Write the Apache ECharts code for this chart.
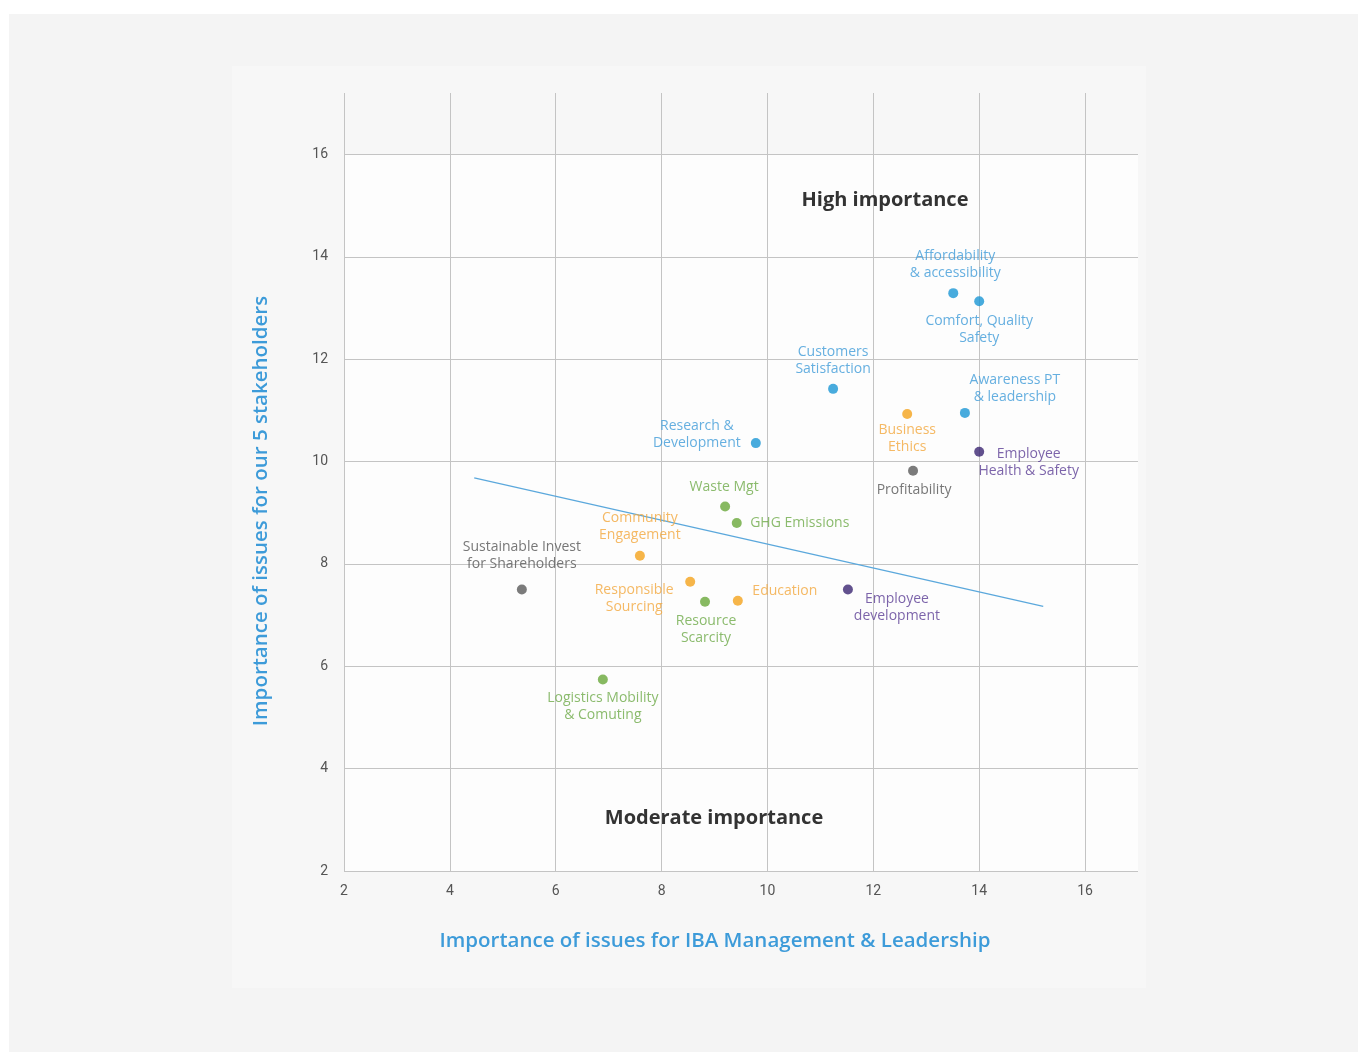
<!DOCTYPE html>
<html>
<head>
<meta charset="utf-8">
<script src="https://cdn.jsdelivr.net/npm/echarts@6/dist/echarts.min.js"></script>
<style>
  html, body { margin: 0; padding: 0; background: #ffffff; }
  #outer { position: absolute; left: 9px; top: 14px; width: 1349px; height: 1038px; background: #f4f4f4; }
  #inner { position: absolute; left: 232px; top: 66px; width: 914px; height: 922px; background: #f7f7f7; }
  #chart { position: absolute; left: 0; top: 0; width: 1358px; height: 1052px; }
</style>
</head>
<body>
<div id="outer"></div>
<div id="inner"></div>
<div id="chart"></div>
<script>
// ---- data ----
const issueNames = [
  'Affordability\n& accessibility',
  'Comfort, Quality\nSafety',
  'Customers\nSatisfaction',
  'Awareness PT\n& leadership',
  'Business\nEthics',
  'Research &\nDevelopment',
  'Employee\nHealth & Safety',
  'Profitability',
  'Waste Mgt',
  'GHG Emissions',
  'Community\nEngagement',
  'Sustainable Invest\nfor Shareholders',
  'Responsible\nSourcing',
  'Resource\nScarcity',
  'Education',
  'Employee\ndevelopment',
  'Logistics Mobility\n& Comuting'
];
const managementScores = [13.51, 14.0, 11.24, 13.73, 12.64, 9.78, 14.0, 12.75, 9.20, 9.42, 7.59, 5.36, 8.54, 8.82, 9.44, 11.52, 6.89];
const stakeholderScores = [13.29, 13.13, 11.42, 10.95, 10.93, 10.36, 10.19, 9.82, 9.12, 8.80, 8.16, 7.50, 7.65, 7.26, 7.28, 7.50, 5.74];
const issueGroups = ['customer', 'customer', 'customer', 'customer', 'social', 'customer', 'people', 'economic', 'environment', 'environment', 'social', 'economic', 'social', 'environment', 'social', 'people', 'environment'];
const trendX = [4.46, 15.21];
const trendY = [9.68, 7.17];
const tickValues = [2, 4, 6, 8, 10, 12, 14, 16];
const xAxisTitle = 'Importance of issues for IBA Management & Leadership';
const yAxisTitle = 'Importance of issues for our 5 stakeholders';
const highLabel = 'High importance';
const moderateLabel = 'Moderate importance';

// ---- styles ----
const FONT = 'Open Sans';
const groupDot = { customer: '#1a96d4', social: '#f4a31c', environment: '#69a83a', economic: '#5a5a5a', people: '#3b2672' };
const groupText = { customer: '#3f9bd8', social: '#f2a83d', environment: '#6eaa48', economic: '#555555', people: '#5b3d95' };
// label centre offset (px) from the dot centre
const labelOffsets = [
  [2, -28.5], [0, 28.5], [0, -28.5], [50, -24.5], [0, 24.5], [-59, -9], [49.5, 10.5],
  [1, 19], [-1, -20], [63, 0], [0, -29.5], [0, -33.5], [-56, 16.5], [1, 27.5], [47, -10],
  [49, 18], [0, 26.5]
];
const DOT = 10;

const pointData = issueNames.map((n, i) => ({
  name: n,
  value: [managementScores[i], stakeholderScores[i]],
  itemStyle: { color: groupDot[issueGroups[i]] },
  label: {
    show: true,
    formatter: n,
    position: [DOT / 2 + labelOffsets[i][0], DOT / 2 + labelOffsets[i][1]],
    align: 'center',
    verticalAlign: 'middle',
    color: groupText[issueGroups[i]],
    fontFamily: FONT,
    fontSize: 14,
    lineHeight: 17
  }
}));

const chart = echarts.init(document.getElementById('chart'), null, { renderer: 'canvas' });
const gridLine = { show: true, lineStyle: { color: '#c4c4c4', width: 1 } };
const tickFmt = v => (tickValues.indexOf(v) >= 0 ? String(v) : '');

chart.setOption({
  backgroundColor: 'transparent',
  animation: false,
  grid: { left: 344, top: 93, right: 220, bottom: 181, containLabel: false, outerBoundsMode: 'none' },
  xAxis: {
    type: 'value', min: 2, max: 17, interval: 2, z: 2,
    axisLine: { show: false }, axisTick: { show: false },
    splitLine: Object.assign({ showMaxLine: false }, gridLine),
    axisLabel: { formatter: tickFmt, showMaxLabel: false, color: '#555', fontFamily: 'Roboto', fontSize: 14, margin: 13 }
  },
  yAxis: {
    type: 'value', min: 2, max: 17.2, interval: 2, z: 2,
    axisLine: { show: false }, axisTick: { show: false },
    splitLine: Object.assign({ showMaxLine: false }, gridLine),
    axisLabel: { formatter: tickFmt, showMaxLabel: false, color: '#555', fontFamily: 'Roboto', fontSize: 14, margin: 16 }
  },
  series: [
    {
      type: 'scatter', data: [], z: 0, silent: true,
      markArea: {
        silent: true, z: 0,
        itemStyle: { color: '#fdfdfd' },
        data: [[{ coord: [tickValues[0], tickValues[0]] }, { coord: [17, tickValues[tickValues.length - 1]] }]]
      }
    },
    {
      type: 'line',
      data: trendX.map((x, i) => [x, trendY[i]]),
      symbol: 'none',
      lineStyle: { color: '#5ba8dc', width: 1.3 },
      z: 3, silent: true
    },
    {
      type: 'scatter',
      symbolSize: DOT,
      data: pointData,
      z: 4
    }
  ],
  graphic: {
    elements: [
      { type: 'text', z: 10, x: 885, y: 200, style: { text: highLabel, x: 0, y: 0, align: 'center', verticalAlign: 'middle', fill: '#333333', font: 'bold 20px "Open Sans"' } },
      { type: 'text', z: 10, x: 714, y: 818, style: { text: moderateLabel, x: 0, y: 0, align: 'center', verticalAlign: 'middle', fill: '#333333', font: 'bold 20px "Open Sans"' } },
      { type: 'text', z: 10, x: 715, y: 941, style: { text: xAxisTitle, x: 0, y: 0, align: 'center', verticalAlign: 'middle', fill: '#3d9bd9', font: '600 20.5px "Open Sans"' } },
      { type: 'text', z: 10, x: 261, y: 511, rotation: Math.PI / 2, style: { text: yAxisTitle, x: 0, y: 0, align: 'center', verticalAlign: 'middle', fill: '#3d9bd9', font: '600 20.5px "Open Sans"' } }
    ]
  }
});
</script>
</body>
</html>
